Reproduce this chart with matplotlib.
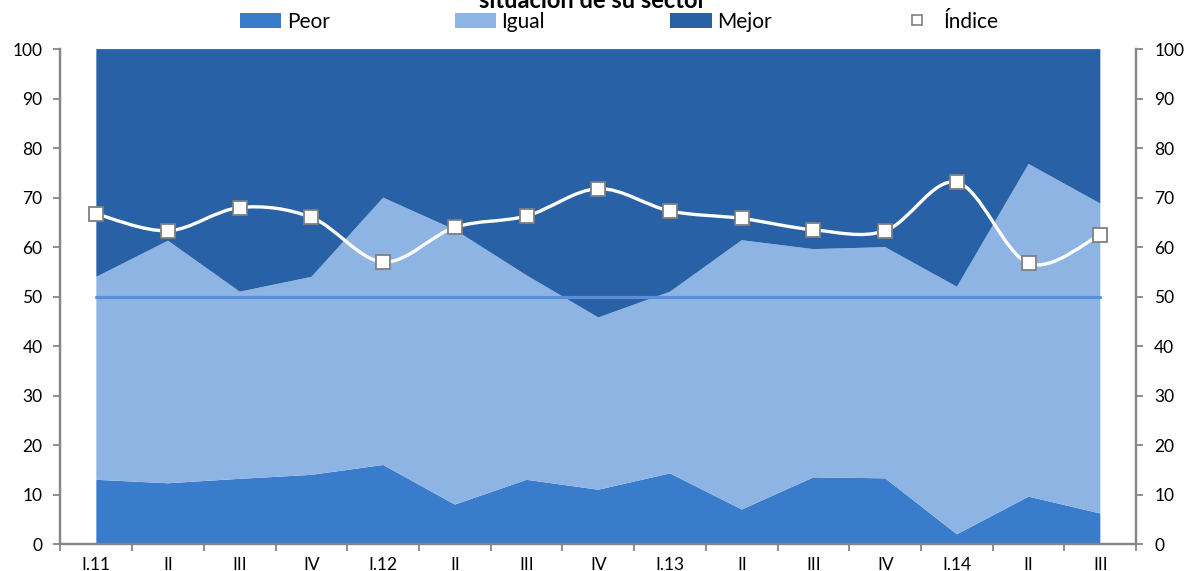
import matplotlib
matplotlib.use("Agg")
import matplotlib.pyplot as plt
import numpy as np
from matplotlib.path import Path
from matplotlib.patches import PathPatch, Patch
from matplotlib.lines import Line2D

plt.rcParams['font.family'] = ['Lato', 'DejaVu Sans']

# --- data ---
trimestres = ["I.11", "II", "III", "IV", "I.12", "II", "III", "IV",
              "I.13", "II", "III", "IV", "I.14", "II", "III"]
peor = [13.0, 12.3, 13.2, 14.0, 16.0, 8.0, 13.0, 11.0,
        14.3, 7.0, 13.5, 13.3, 2.0, 9.6, 6.2]
igual = [41.0, 49.0, 37.8, 40.0, 54.0, 55.5, 41.3, 34.8,
         36.7, 54.4, 46.1, 46.7, 50.0, 67.2, 62.6]
mejor = [46.0, 38.7, 49.0, 46.0, 30.0, 36.5, 45.7, 54.2,
         49.0, 38.6, 40.4, 40.0, 48.0, 23.2, 31.2]
indice = [66.7, 63.3, 68.0, 66.0, 57.0, 64.0, 66.3, 71.8,
          67.3, 65.8, 63.5, 63.3, 73.1, 56.7, 62.5]
referencia = [50] * len(trimestres)

C_PEOR = '#3A7CCC'
C_IGUAL = '#8EB4E3'
C_MEJOR = '#2861A5'
C_REF = '#5A8FD8'
C_AXIS = '#868686'


def smooth_path(x, y):
    # Excel-style smoothed line drawn as cubic Bezier segments
    n = len(x)
    verts = [(x[0], y[0])]
    codes = [Path.MOVETO]
    for i in range(n - 1):
        x0, y0 = (x[i - 1], y[i - 1]) if i > 0 else (x[i], y[i])
        x3, y3 = (x[i + 2], y[i + 2]) if i + 2 < n else (x[i + 1], y[i + 1])
        c1 = (x[i] + (x[i + 1] - x0) / 6, y[i] + (y[i + 1] - y0) / 6)
        c2 = (x[i + 1] - (x3 - x[i]) / 6, y[i + 1] - (y3 - y[i]) / 6)
        verts += [c1, c2, (x[i + 1], y[i + 1])]
        codes += [Path.CURVE4] * 3
    return Path(verts, codes)


fig = plt.figure(figsize=(11.86, 5.71), dpi=100)
ax = fig.add_axes([0.051, 0.047, 0.907, 0.867])

x = np.arange(len(trimestres))
ax.stackplot(x, peor, igual, mejor, colors=[C_PEOR, C_IGUAL, C_MEJOR],
             linewidth=0, zorder=1)
ax.plot(x, referencia, color=C_REF, lw=2.3, zorder=2, solid_capstyle='round')

ax.add_patch(PathPatch(smooth_path(x, indice), facecolor='none',
                       edgecolor='white', lw=2.4, zorder=3))
ax.plot(x, indice, ls='none', marker='s', markersize=9.5,
        markerfacecolor='white', markeredgecolor='#7F7F7F',
        markeredgewidth=1.3, zorder=4)

ax.set_xlim(-0.5, len(trimestres) - 0.5)
ax.set_ylim(0, 100)
ax.set_yticks(range(0, 101, 10))
ax.set_xticks(x)
ax.set_xticklabels(trimestres)
ax.set_xticks(np.arange(-0.5, len(trimestres), 1.0), minor=True)
ax.tick_params(axis='x', which='major', length=0, pad=9, labelsize=12.5)
ax.tick_params(axis='x', which='minor', length=5, width=1.3, color=C_AXIS, direction='out')
ax.tick_params(axis='y', length=5, width=1.3, color=C_AXIS, labelsize=12.5, pad=8)

ax2 = ax.twinx()
ax2.set_ylim(0, 100)
ax2.set_yticks(range(0, 101, 10))
ax2.tick_params(axis='y', length=5, width=1.3, color=C_AXIS, labelsize=12.5, pad=8)

for a in (ax, ax2):
    a.spines['top'].set_visible(False)
    for s in ('left', 'right', 'bottom'):
        a.spines[s].set_color(C_AXIS)
        a.spines[s].set_linewidth(1.6)

fig.text(0.5, 1.0, "situación de su sector", ha='center', va='center',
         fontsize=17, fontweight='bold')

handles = [Patch(facecolor=C_PEOR), Patch(facecolor=C_IGUAL), Patch(facecolor=C_MEJOR),
           Line2D([], [], ls='none', marker='s', markersize=7,
                  markerfacecolor='white', markeredgecolor='#7F7F7F', markeredgewidth=1.2)]
fig.legend(handles, ["Peor", "Igual", "Mejor", "Índice"], ncol=4, frameon=False,
           loc='center', bbox_to_anchor=(0.522, 0.962), fontsize=15,
           handlelength=2.0, handleheight=0.7, handletextpad=0.25, columnspacing=6.0)

fig.savefig("out.png", dpi=100)
